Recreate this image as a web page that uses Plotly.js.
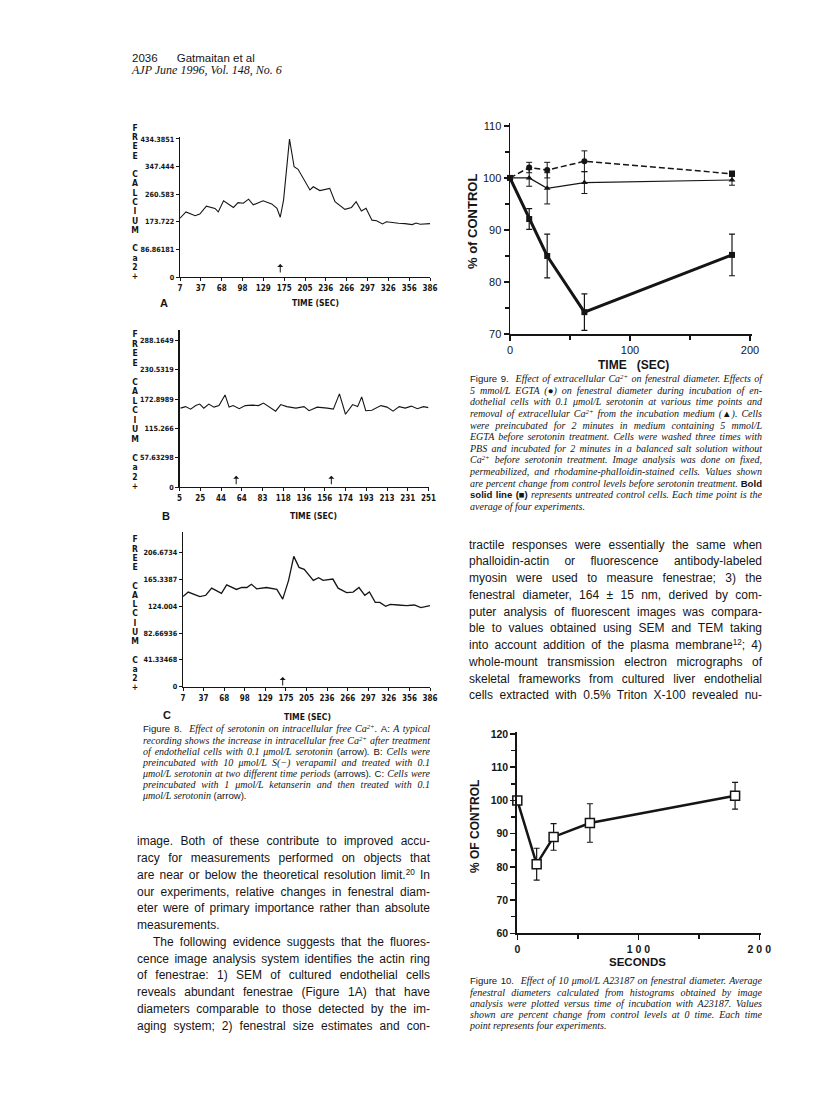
<!DOCTYPE html>
<html>
<head>
<meta charset="utf-8">
<script src="https://cdn.plot.ly/plotly-3.0.1.min.js"></script>
<style>
  body { margin: 0; background: #fff; }
  #page { position: relative; width: 816px; height: 1115px; overflow: hidden; background: #fff; }
  #plot { position: absolute; left: 0; top: 0; width: 816px; height: 1115px; }
  .ln { position: absolute; white-space: nowrap; color: #151515; }
  .body { font-family: 'Liberation Sans', Arial, sans-serif; font-size: 12px; }
  .cap { font-family: 'Liberation Serif', 'Times New Roman', serif; font-style: italic; font-size: 10px; }
  .cap .sf { font-family: 'Liberation Sans', Arial, sans-serif; font-style: normal; font-size: 9.6px; }
  .cap b.sf { font-weight: bold; }
  sup { font-size: 0.68em; vertical-align: 0.45em; line-height: 0; }
  .hdr { font-family: 'Liberation Sans', Arial, sans-serif; font-size: 11.5px; }
  .hdr2 { font-family: 'Liberation Serif', serif; font-style: italic; font-size: 12px; }
  .stack { position: absolute; width: 10px; text-align: center; color: #151515;
           font-family: 'DejaVu Sans Condensed', 'DejaVu Sans', sans-serif; font-weight: bold; font-size: 8.5px; }
</style>
</head>
<body>
<div id="page"><div id="plot"></div></div>
<script>
// ---- Figure 8: free Ca2+ recordings (A, B, C) ----
var timeA = [7, 16, 30, 37, 47, 60, 65, 73, 88, 95, 103, 111, 118, 133, 146, 154, 159, 164, 173, 180, 186,
  204, 209, 219, 234, 242, 257, 267, 274, 282, 289, 298, 305, 314, 320, 330, 338, 348, 359, 365, 371, 386];
var calciumA = [185, 205, 193, 198, 223, 216, 205, 240, 219, 234, 232, 245, 227, 240, 230, 216, 188, 242, 434, 347, 339,
  274, 284, 272, 279, 237, 213, 219, 237, 208, 216, 179, 177, 167, 174, 171, 169, 168, 165, 170, 166, 168];
var ticksA = ['7', '37', '68', '98', '129', '175', '205', '236', '266', '297', '326', '356', '386'];
var yTicksA = ['0', '86.86181', '173.722', '260.583', '347.444', '434.3851'];

var timeB = [6, 11, 16, 21, 25, 29, 34, 39, 44, 50, 54, 58, 64, 70, 77, 83, 88, 93, 100, 105, 111, 120, 128, 133,
  141, 151, 157, 163, 169, 176, 181, 185, 189, 195, 204, 210, 216, 222, 228, 234, 240, 246, 251];
var calciumB = [155, 158, 153, 160, 163, 155, 163, 157, 160, 181, 157, 160, 154, 160, 161, 160, 165, 158, 149, 162, 158, 155, 158, 150,
  157, 155, 153, 183, 143, 162, 158, 177, 150, 151, 160, 157, 149, 158, 155, 159, 154, 158, 156];
var ticksB = ['5', '25', '44', '64', '83', '118', '136', '156', '174', '193', '213', '231', '251'];
var yTicksB = ['0', '57.63298', '115.266', '172.8989', '230.5319', '288.1649'];

var timeC = [7, 15, 28, 33, 42, 51, 66, 74, 89, 97, 105, 112, 120, 135, 151, 160, 169, 177, 185, 193, 207, 215, 222,
  237, 245, 258, 268, 277, 286, 293, 302, 309, 318, 325, 337, 350, 362, 372, 386];
var calciumC = [139, 146, 141, 139, 141, 152, 144, 157, 150, 153, 153, 158, 151, 153, 150, 135, 164, 201, 184, 181, 164, 168, 164,
  166, 152, 145, 146, 153, 141, 146, 130, 130, 124, 127, 126, 125, 126, 122, 125];
var ticksC = ['7', '37', '68', '98', '129', '175', '205', '236', '266', '297', '326', '356', '386'];
var yTicksC = ['0', '41.33468', '82.66936', '124.004', '165.3387', '206.6734'];

// serotonin additions (arrows)
var arrowTimesA = [159];
var arrowTimesB = [61, 155];
var arrowTimesC = [160];

// ---- Figure 9: % of control vs time ----
var time9 = [0, 16, 31, 62, 185];
var egta = [100, 102, 101.5, 103.2, 100.8];
var egtaErr = [0, 1, 1.5, 2, 0.5];
var noCa = [100, 100, 98, 99.1, 99.6];
var noCaErr = [0, 1.6, 3, 2.1, 1];
var control = [100, 92.1, 85, 74.2, 85.2];
var controlErr = [0, 2, 4.2, 3.5, 4];

// ---- Figure 10: A23187 ----
var time10 = [0, 16, 30, 60, 180];
var a23187 = [100, 80.8, 89, 93.2, 101.4];
var a23187Err = [0, 4.8, 4, 5.8, 4];

var W = 816, H = 1115;
function dx(a, b) { return [a / W, b / W]; }
function dy(top, bottom) { return [1 - bottom / H, 1 - top / H]; }

var ink = '#151515';
var f8Font = {family: 'DejaVu Sans Condensed, DejaVu Sans, sans-serif', size: 8, color: ink, weight: 'bold'};
var f8yFont = {family: 'DejaVu Sans Condensed, DejaVu Sans, sans-serif', size: 7.2, color: ink, weight: 'bold'};

function fig8x(domain, range, anchor, labels) {
  var step = (range[1] - range[0]) / (labels.length - 1);
  return {
    domain: domain, range: range, anchor: anchor, showline: true, linecolor: ink, linewidth: 1.2,
    ticks: 'outside', ticklen: 3, tickwidth: 1, tickcolor: ink, showgrid: false, zeroline: false,
    tickmode: 'array', tickvals: labels.map(function (_, i) { return range[0] + i * step; }),
    ticktext: labels, tickfont: f8Font
  };
}
function fig8y(domain, range, anchor, labels) {
  return {
    domain: domain, range: range, anchor: anchor, showline: true, linecolor: ink, linewidth: 1.2,
    ticks: 'outside', ticklen: 3, tickwidth: 1, tickcolor: ink, showgrid: false, zeroline: false,
    tickmode: 'array', tickvals: labels.map(Number), ticktext: labels, tickfont: f8yFont
  };
}

var data = [
  {x: timeA, y: calciumA, xaxis: 'x', yaxis: 'y', mode: 'lines', line: {color: ink, width: 1.1}},
  {x: timeB, y: calciumB, xaxis: 'x2', yaxis: 'y2', mode: 'lines', line: {color: ink, width: 1.1}},
  {x: timeC, y: calciumC, xaxis: 'x3', yaxis: 'y3', mode: 'lines', line: {color: ink, width: 1.3}},
  {x: time9, y: egta, xaxis: 'x4', yaxis: 'y4', mode: 'lines+markers', cliponaxis: false,
   line: {color: ink, width: 1.5, dash: '6px,3px'},
   marker: {color: ink, size: 6, symbol: ['circle', 'circle', 'circle', 'circle', 'square']},
   error_y: {type: 'data', array: egtaErr, color: ink, thickness: 1, width: 3}},
  {x: time9, y: noCa, xaxis: 'x4', yaxis: 'y4', mode: 'lines+markers', cliponaxis: false,
   line: {color: ink, width: 1.2},
   marker: {color: ink, size: 6, symbol: 'triangle-up'},
   error_y: {type: 'data', array: noCaErr, color: ink, thickness: 1, width: 3}},
  {x: time9, y: control, xaxis: 'x4', yaxis: 'y4', mode: 'lines+markers', cliponaxis: false,
   line: {color: ink, width: 3},
   marker: {color: ink, size: 6, symbol: 'square'},
   error_y: {type: 'data', array: controlErr, color: ink, thickness: 1.2, width: 3}},
  {x: time10, y: a23187, xaxis: 'x5', yaxis: 'y5', mode: 'lines+markers', cliponaxis: false,
   line: {color: ink, width: 2.5},
   marker: {color: '#fff', size: 9, symbol: 'square', line: {color: ink, width: 1.5}},
   error_y: {type: 'data', array: a23187Err, color: ink, thickness: 1.2, width: 3}}
];

function arrows(times, xref, yref, tipY) {
  return times.map(function (t) {
    return {x: t, y: tipY, xref: xref, yref: yref, text: '', showarrow: true, ax: 0, ay: 10,
            arrowhead: 1, arrowsize: 1, arrowwidth: 1, arrowcolor: ink};
  });
}
function label(text, px, py, font, angle) {
  return {x: px / W, y: 1 - py / H, xref: 'paper', yref: 'paper', text: text, showarrow: false,
          xanchor: 'center', yanchor: 'middle', font: font, textangle: angle || 0};
}

var titleF8 = {family: 'DejaVu Sans Condensed, DejaVu Sans, sans-serif', size: 8.5, color: ink, weight: 'bold'};
var letterF = {family: 'Liberation Sans, Arial, sans-serif', size: 11, color: ink, weight: 'bold'};
var boldF = {family: 'Liberation Sans, Arial, sans-serif', size: 12, color: ink, weight: 'bold'};

var annotations = []
  .concat(arrows(arrowTimesA, 'x', 'y', 41))
  .concat(arrows(arrowTimesB, 'x2', 'y2', 22))
  .concat(arrows(arrowTimesC, 'x3', 'y3', 15))
  .concat([
    label('TIME (SEC)', 315, 303, titleF8), label('A', 164, 303, letterF),
    label('TIME (SEC)', 313, 516, titleF8), label('B', 166, 516, letterF),
    label('TIME (SEC)', 307, 717, titleF8), label('C', 167, 715, letterF),
    label('TIME\u00a0\u00a0\u00a0(SEC)', 633, 365, boldF),
    label('% of CONTROL', 473, 222, {family: 'Liberation Sans, Arial, sans-serif', size: 13, color: ink, weight: 'bold'}, -90),
    label('SECONDS', 637, 962, {family: 'Liberation Sans, Arial, sans-serif', size: 11.5, color: ink, weight: 'bold'}),
    label('% OF CONTROL', 475, 827, {family: 'Liberation Sans, Arial, sans-serif', size: 12, color: ink, weight: 'bold'}, -90)
  ]);

var tick9 = {family: 'Liberation Sans, Arial, sans-serif', size: 11, color: ink};
var tick10 = {family: 'Liberation Sans, Arial, sans-serif', size: 10.5, color: ink, weight: 'bold'};

var layout = {
  width: W, height: H, margin: {l: 0, r: 0, t: 0, b: 0},
  paper_bgcolor: 'rgba(0,0,0,0)', plot_bgcolor: 'rgba(0,0,0,0)', showlegend: false,
  xaxis: fig8x(dx(180, 430), [7, 386], 'y', ticksA),
  yaxis: fig8y(dy(137.2, 277), [0, 440], 'x', yTicksA),
  xaxis2: fig8x(dx(179.5, 428.5), [5, 251], 'y2', ticksB),
  yaxis2: fig8y(dy(330, 487), [0, 308.6], 'x2', yTicksB),
  xaxis3: fig8x(dx(183, 430), [7, 386], 'y3', ticksC),
  yaxis3: fig8y(dy(532, 686.7), [0, 238.6], 'x3', yTicksC),
  xaxis4: {domain: dx(510, 752.4), range: [0, 202], anchor: 'y4', showline: true, linecolor: ink, linewidth: 1.5,
    ticks: 'outside', ticklen: 5, tickwidth: 1.2, tickcolor: ink, tick0: 0, dtick: 100,
    minor: {ticks: 'outside', ticklen: 4, tick0: 0, dtick: 50, tickwidth: 1.2, tickcolor: ink},
    showgrid: false, zeroline: false, tickfont: tick9},
  yaxis4: {domain: dy(123.3, 334), range: [70, 110.5], anchor: 'x4', showline: true, linecolor: ink, linewidth: 1.5,
    ticks: 'outside', ticklen: 5, tickwidth: 1.2, tickcolor: ink, tick0: 70, dtick: 10,
    minor: {ticks: 'outside', ticklen: 4, tick0: 70, dtick: 5, tickwidth: 1.2, tickcolor: ink},
    showgrid: false, zeroline: false, tickfont: tick9},
  xaxis5: {domain: dx(517.3, 760.5), range: [0, 201], anchor: 'y5', showline: true, linecolor: ink, linewidth: 2,
    ticks: 'outside', ticklen: 5, tickwidth: 1.5, tickcolor: ink, tickmode: 'array',
    tickvals: [0, 100, 200], ticktext: ['0', '1 0 0', '2 0 0'],
    minor: {ticks: 'outside', ticklen: 4, tick0: 0, dtick: 50, tickwidth: 1.5, tickcolor: ink},
    showgrid: false, zeroline: false, tickfont: tick10},
  yaxis5: {domain: dy(732.3, 933.3), range: [60, 120.5], anchor: 'x5', showline: true, linecolor: ink, linewidth: 2,
    ticks: 'outside', ticklen: 5, tickwidth: 1.5, tickcolor: ink, tick0: 60, dtick: 10,
    minor: {ticks: 'outside', ticklen: 4, tick0: 60, dtick: 5, tickwidth: 1.5, tickcolor: ink},
    showgrid: false, zeroline: false, tickfont: tick10},
  annotations: annotations
};

Plotly.newPlot('plot', data, layout, {staticPlot: true});

// ---- page text ----
var page = document.getElementById('page');

function placeLines(lines, left, firstY, step, width, cls, ragged, indent) {
  ragged = ragged || []; indent = indent || [];
  lines.forEach(function (html, i) {
    var d = document.createElement('div');
    d.className = 'ln ' + cls;
    d.style.left = left + 'px';
    d.style.top = (firstY + i * step - step / 2) + 'px';
    d.style.height = step + 'px';
    d.style.lineHeight = step + 'px';
    var s = document.createElement('span');
    s.innerHTML = html;
    var ind = indent.indexOf(i) >= 0 ? 16 : 0;
    s.style.marginLeft = ind + 'px';
    d.appendChild(s);
    page.appendChild(d);
    if (ragged.indexOf(i) < 0) {
      var w = s.getBoundingClientRect().width;
      var n = (s.textContent.match(/[ \u00a0]/g) || []).length;
      if (n) s.style.wordSpacing = ((width - ind - w) / n) + 'px';
    }
  });
}

placeLines(['2036&nbsp;&nbsp;&nbsp;&nbsp;&nbsp;&nbsp;Gatmaitan et al'], 132, 58, 13, 120, 'hdr', [0]);
placeLines(['AJP June 1996, Vol. 148, No. 6'], 132, 70, 13, 160, 'hdr2', [0]);

// stacked y-axis titles of figure 8
var stackLetters = ['F', 'R', 'E', 'E', '&nbsp;', 'C', 'A', 'L', 'C', 'I', 'U', 'M', '&nbsp;', 'C', 'a', '2', '+'];
[[123.7, 9.28], [330.3, 9.48], [535.4, 9.25]].forEach(function (p) {
  var d = document.createElement('div');
  d.className = 'stack';
  d.style.left = '130px';
  d.style.top = p[0] + 'px';
  d.style.lineHeight = p[1] + 'px';
  d.innerHTML = stackLetters.join('<br>');
  page.appendChild(d);
});

var cap8 = [
  '<span class="sf">Figure 8.</span>&nbsp; Effect of serotonin on intracellular free Ca<sup>2+</sup>. <span class="sf">A:</span> A typical',
  'recording shows the increase in intracellular free Ca<sup>2+</sup> after treatment',
  'of endothelial cells with 0.1 \u03bcmol/L serotonin <span class="sf">(arrow)</span>. <span class="sf">B:</span> Cells were',
  'preincubated with 10 \u03bcmol/L S(\u2212) verapamil and treated with 0.1',
  '\u03bcmol/L serotonin at two different time periods <span class="sf">(arrows)</span>. <span class="sf">C:</span> Cells were',
  'preincubated with 1 \u03bcmol/L ketanserin and then treated with 0.1',
  '\u03bcmol/L serotonin <span class="sf">(arrow)</span>.'
];
placeLines(cap8, 143, 729, 11.17, 287, 'cap', [6]);

var cap9 = [
  '<span class="sf">Figure 9.</span>&nbsp; Effect of extracellular Ca<sup>2+</sup> on fenestral diameter. Effects of',
  '5 mmol/L EGTA (<span class="sf">\u25cf</span>) on fenestral diameter during incubation of en-',
  'dothelial cells with 0.1 \u03bcmol/L serotonin at various time points and',
  'removal of extracellular Ca<sup>2+</sup> from the incubation medium (<span class="sf">\u25b2</span>). Cells',
  'were preincubated for 2 minutes in medium containing 5 mmol/L',
  'EGTA before serotonin treatment. Cells were washed three times with',
  'PBS and incubated for 2 minutes in a balanced salt solution without',
  'Ca<sup>2+</sup> before serotonin treatment. Image analysis was done on fixed,',
  'permeabilized, and rhodamine-phalloidin-stained cells. Values shown',
  'are percent change from control levels before serotonin treatment. <b class="sf">Bold</b>',
  '<b class="sf">solid line (\u25a0)</b> represents untreated control cells. Each time point is the',
  'average of four experiments.'
];
placeLines(cap9, 470, 379, 11.6, 292, 'cap', [11]);

var cap10 = [
  '<span class="sf">Figure 10.</span>&nbsp; Effect of 10 \u03bcmol/L A23187 on fenestral diameter. Average',
  'fenestral diameters calculated from histograms obtained by image',
  'analysis were plotted versus time of incubation with A23187. Values',
  'shown are percent change from control levels at 0 time. Each time',
  'point represents four experiments.'
];
placeLines(cap10, 470, 981, 11.2, 292, 'cap', [4]);

var bodyLeft = [
  'image. Both of these contribute to improved accu-',
  'racy for measurements performed on objects that',
  'are near or below the theoretical resolution limit.<sup>20</sup> In',
  'our experiments, relative changes in fenestral diam-',
  'eter were of primary importance rather than absolute',
  'measurements.',
  'The following evidence suggests that the fluores-',
  'cence image analysis system identifies the actin ring',
  'of fenestrae: 1) SEM of cultured endothelial cells',
  'reveals abundant fenestrae (Figure 1A) that have',
  'diameters comparable to those detected by the im-',
  'aging system; 2) fenestral size estimates and con-'
];
placeLines(bodyLeft, 137, 841.7, 16.75, 293, 'body', [5], [6]);

var bodyRight = [
  'tractile responses were essentially the same when',
  'phalloidin-actin or fluorescence antibody-labeled',
  'myosin were used to measure fenestrae; 3) the',
  'fenestral diameter, 164 \u00b1 15 nm, derived by com-',
  'puter analysis of fluorescent images was compara-',
  'ble to values obtained using SEM and TEM taking',
  'into account addition of the plasma membrane<sup>12</sup>; 4)',
  'whole-mount transmission electron micrographs of',
  'skeletal frameworks from cultured liver endothelial',
  'cells extracted with 0.5% Triton X-100 revealed nu-'
];
placeLines(bodyRight, 469, 545, 16.74, 293, 'body');
</script>
</body>
</html>
